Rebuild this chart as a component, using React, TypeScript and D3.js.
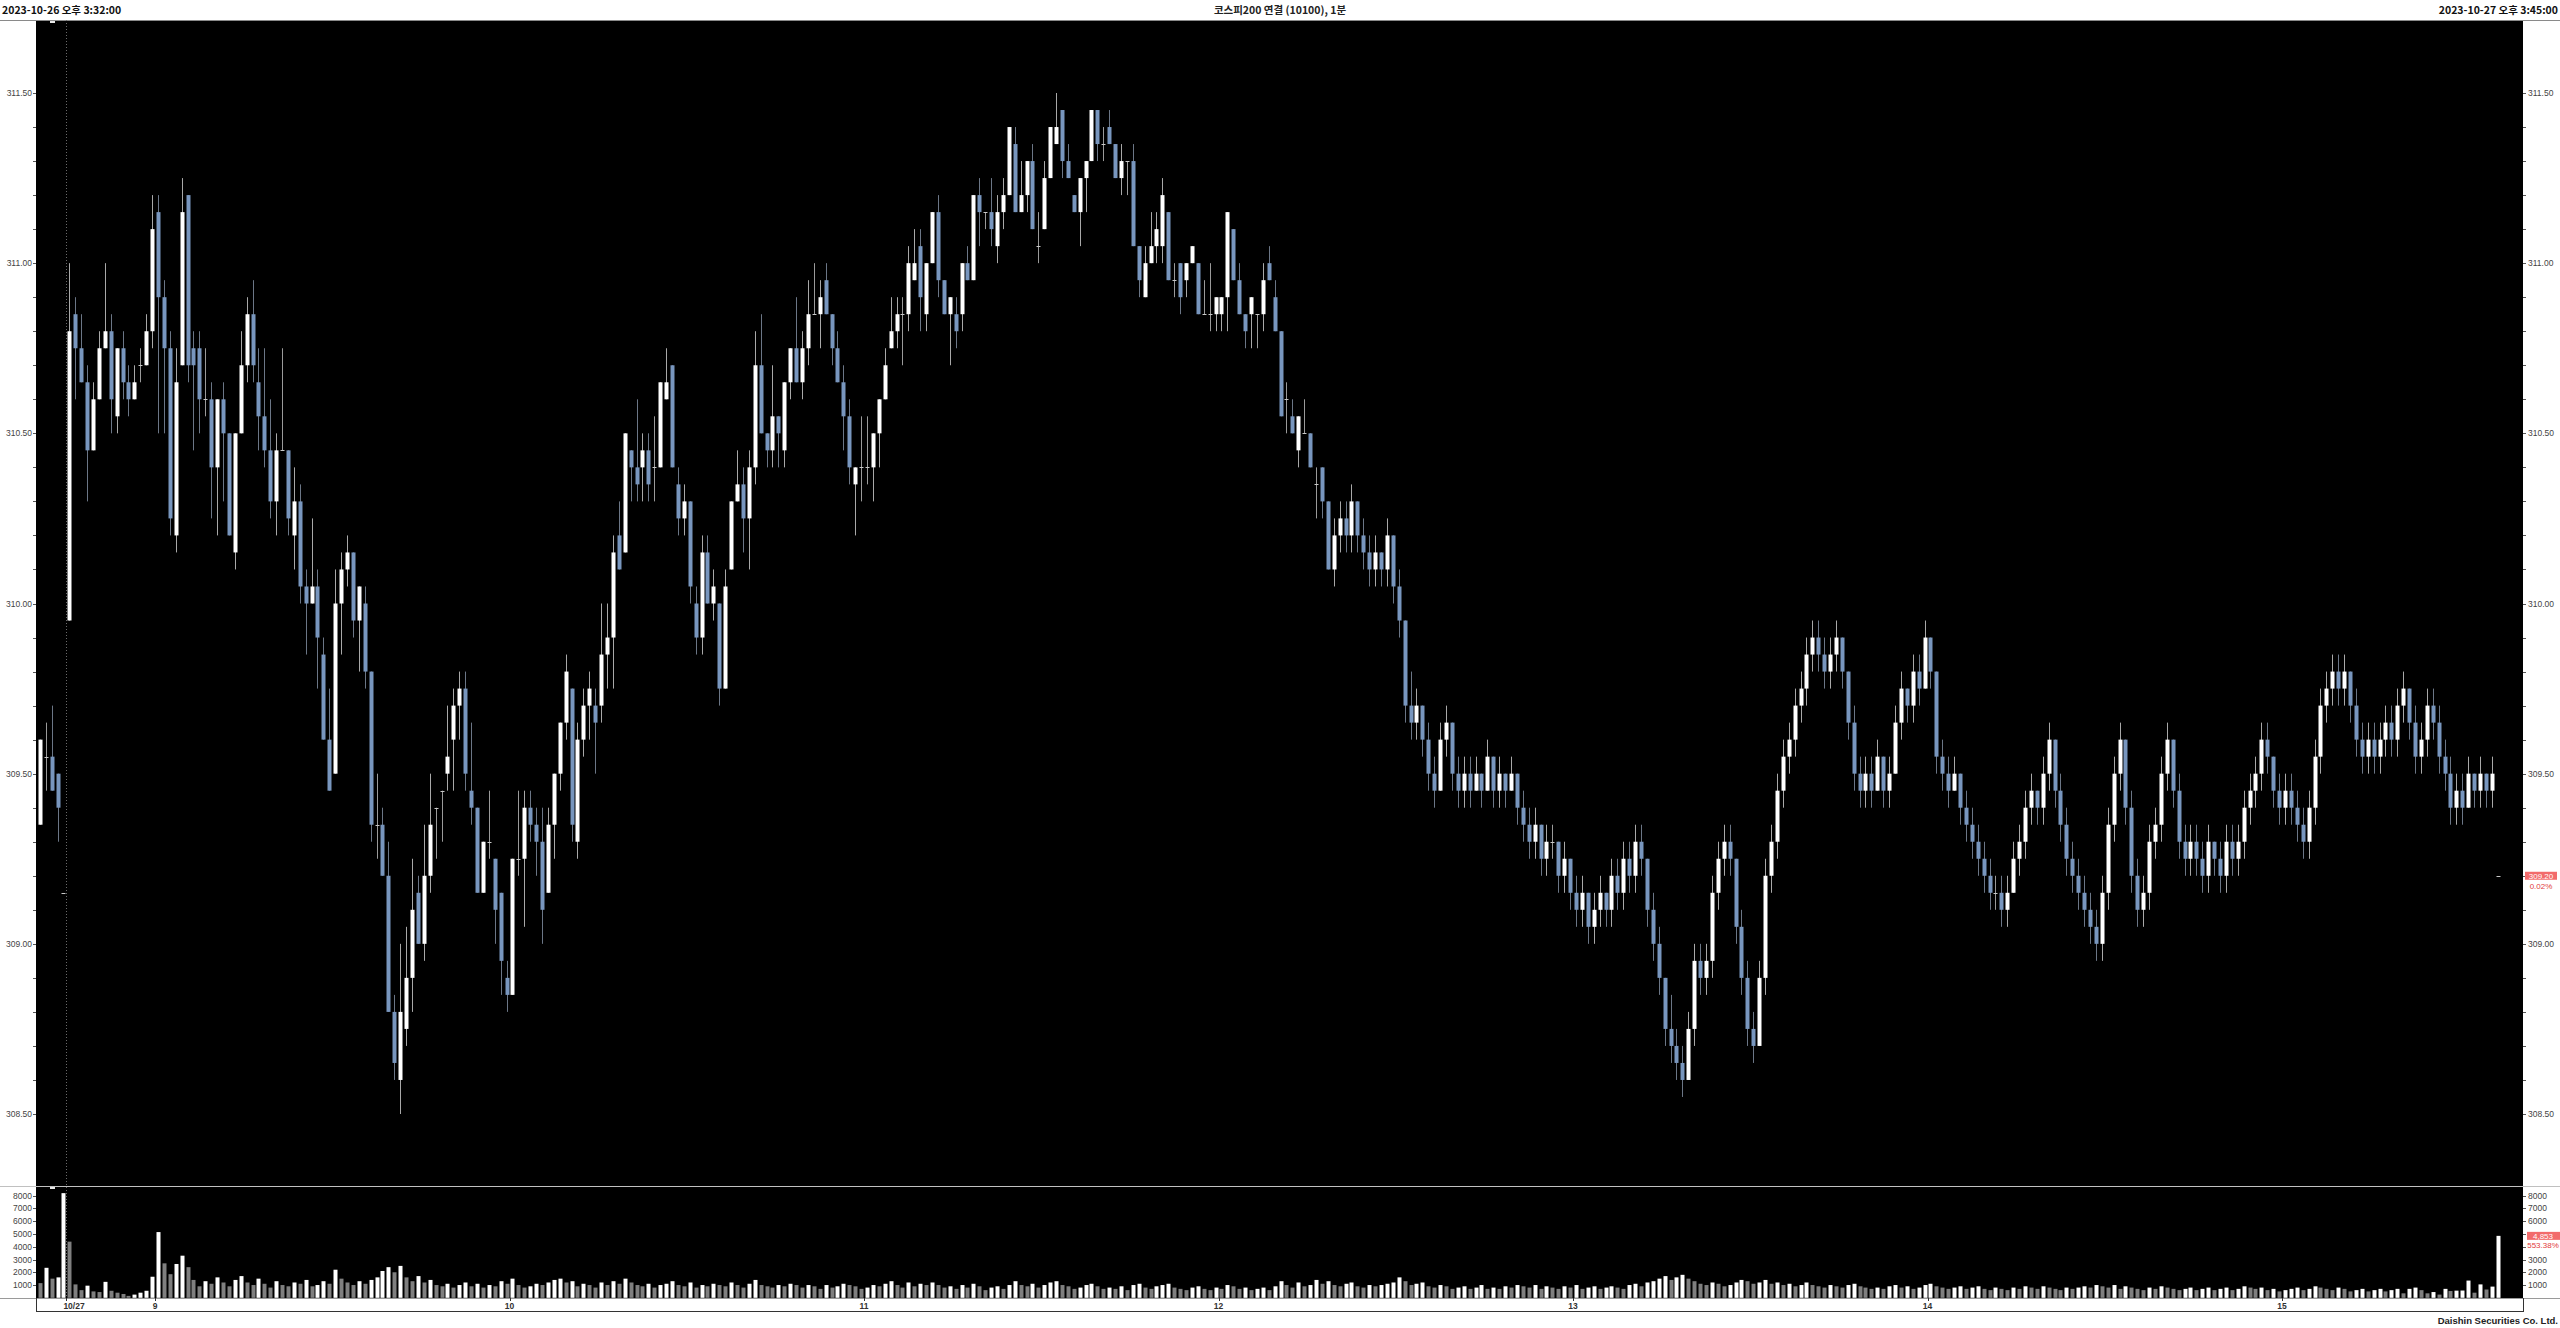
import React from "react";
import * as d3 from "d3";

// ---- data: previous day close (5 candles) + 10/27 session (1-minute OHLC) ----
const opens = [
  309.35, 309.55, 309.55, 309.50, 309.15,
  309.95, 310.85, 310.75, 310.65, 310.45, 310.60, 310.75, 310.80, 310.55, 310.75,
  310.65, 310.60, 310.70, 310.70, 310.80, 311.15, 310.90, 310.75, 310.20, 310.70,
  311.20, 310.75, 310.75, 310.60, 310.60, 310.40, 310.60, 310.50, 310.15, 310.50,
  310.70, 310.85, 310.65, 310.55, 310.45, 310.30, 310.45, 310.45, 310.20, 310.30,
  310.05, 310.00, 310.05, 309.85, 309.60, 309.50, 310.00, 310.10, 310.15, 309.95,
  310.00, 309.80, 309.35, 309.35, 309.20, 308.80, 308.60, 308.75, 308.90, 309.15,
  309.00, 309.20, 309.40, 309.45, 309.50, 309.60, 309.70, 309.75, 309.45, 309.40,
  309.15, 309.30, 309.25, 309.15, 308.90, 308.85, 309.25, 309.25, 309.40, 309.35,
  309.30, 309.15, 309.35, 309.50, 309.65, 309.75, 309.30, 309.60, 309.70, 309.70,
  309.70, 309.85, 309.90, 310.20, 310.15, 310.45, 310.40, 310.40, 310.45, 310.40,
  310.40, 310.60, 310.70, 310.35, 310.25, 310.30, 310.00, 309.90, 310.15, 310.00,
  310.00, 309.75, 310.10, 310.30, 310.35, 310.25, 310.40, 310.70, 310.50, 310.45,
  310.55, 310.45, 310.65, 310.75, 310.65, 310.75, 310.85, 310.85, 310.95, 310.85,
  310.75, 310.65, 310.55, 310.35, 310.40, 310.40, 310.40, 310.50, 310.60, 310.75,
  310.80, 310.85, 310.85, 310.95, 311.05, 310.85, 311.00, 311.15, 310.95, 310.85,
  310.85, 310.85, 311.00, 310.95, 311.20, 311.15, 311.15, 311.05, 311.15, 311.20,
  311.35, 311.15, 311.20, 311.30, 311.05, 311.10, 311.25, 311.35, 311.45, 311.30,
  311.20, 311.15, 311.25, 311.30, 311.45, 311.35, 311.40, 311.35, 311.25, 311.30,
  311.30, 311.05, 310.90, 311.00, 311.05, 311.05, 311.15, 310.95, 311.00, 310.95,
  311.00, 311.00, 310.85, 310.85, 310.85, 310.85, 310.90, 311.10, 310.95, 310.85,
  310.85, 310.85, 310.85, 311.00, 310.90, 310.80, 310.60, 310.55, 310.45, 310.50,
  310.50, 310.35, 310.40, 310.30, 310.10, 310.20, 310.25, 310.20, 310.30, 310.20,
  310.15, 310.10, 310.15, 310.10, 310.20, 310.05, 309.95, 309.70, 309.65, 309.70,
  309.60, 309.50, 309.45, 309.60, 309.65, 309.50, 309.45, 309.50, 309.45, 309.50,
  309.45, 309.55, 309.45, 309.50, 309.45, 309.50, 309.40, 309.35, 309.30, 309.35,
  309.25, 309.30, 309.30, 309.20, 309.25, 309.15, 309.10, 309.15, 309.05, 309.10,
  309.15, 309.10, 309.20, 309.15, 309.25, 309.20, 309.30, 309.25, 309.10, 309.00,
  308.90, 308.75, 308.70, 308.65, 308.60, 308.75, 308.95, 308.90, 308.95, 309.15,
  309.25, 309.30, 309.25, 309.05, 308.90, 308.75, 308.70, 308.90, 309.20, 309.30,
  309.45, 309.55, 309.60, 309.70, 309.75, 309.85, 309.90, 309.85, 309.80, 309.85,
  309.90, 309.80, 309.65, 309.50, 309.45, 309.50, 309.45, 309.55, 309.45, 309.50,
  309.65, 309.75, 309.70, 309.80, 309.75, 309.90, 309.80, 309.55, 309.50, 309.45,
  309.50, 309.40, 309.35, 309.30, 309.25, 309.20, 309.15, 309.15, 309.10, 309.15,
  309.25, 309.30, 309.40, 309.45, 309.40, 309.50, 309.60, 309.45, 309.35, 309.25,
  309.20, 309.15, 309.10, 309.05, 309.00, 309.15, 309.35, 309.50, 309.60, 309.40,
  309.20, 309.10, 309.15, 309.30, 309.35, 309.50, 309.60, 309.45, 309.30, 309.25,
  309.30, 309.25, 309.20, 309.30, 309.25, 309.20, 309.30, 309.25, 309.30, 309.40,
  309.45, 309.50, 309.60, 309.55, 309.45, 309.40, 309.45, 309.40, 309.35, 309.30,
  309.40, 309.55, 309.70, 309.75, 309.80, 309.75, 309.80, 309.70, 309.60, 309.55,
  309.60, 309.55, 309.60, 309.65, 309.60, 309.70, 309.75, 309.65, 309.55, 309.60,
  309.70, 309.65, 309.55, 309.50, 309.40, 309.45, 309.40, 309.50, 309.45, 309.50,
  309.45, 309.20,
];
const highs = [
  309.60, 309.65, 309.70, 309.50, 309.15,
  311.00, 310.90, 310.85, 310.70, 310.65, 310.80, 311.00, 310.85, 310.75, 310.80,
  310.70, 310.70, 310.75, 310.85, 311.20, 311.20, 310.95, 310.80, 310.75, 311.25,
  311.20, 310.80, 310.80, 310.75, 310.65, 310.60, 310.65, 310.50, 310.50, 310.80,
  310.90, 310.95, 310.75, 310.75, 310.60, 310.50, 310.75, 310.45, 310.40, 310.35,
  310.10, 310.25, 310.10, 309.90, 309.75, 310.10, 310.15, 310.20, 310.15, 310.05,
  310.05, 309.80, 309.50, 309.40, 309.30, 308.85, 309.00, 309.05, 309.25, 309.20,
  309.35, 309.50, 309.40, 309.45, 309.70, 309.75, 309.80, 309.80, 309.65, 309.40,
  309.30, 309.45, 309.25, 309.15, 308.95, 309.25, 309.45, 309.45, 309.45, 309.40,
  309.40, 309.40, 309.50, 309.65, 309.85, 309.75, 309.65, 309.75, 309.80, 309.75,
  310.00, 310.00, 310.20, 310.30, 310.50, 310.45, 310.60, 310.50, 310.50, 310.55,
  310.65, 310.75, 310.70, 310.40, 310.35, 310.30, 310.05, 310.20, 310.20, 310.10,
  310.00, 310.10, 310.30, 310.45, 310.40, 310.45, 310.80, 310.85, 310.50, 310.70,
  310.55, 310.65, 310.75, 310.90, 310.80, 310.95, 311.00, 310.95, 311.00, 310.85,
  310.80, 310.70, 310.60, 310.40, 310.55, 310.55, 310.50, 310.60, 310.75, 310.90,
  310.90, 310.90, 311.05, 311.10, 311.10, 311.00, 311.15, 311.20, 310.95, 310.90,
  310.90, 311.00, 311.05, 311.20, 311.25, 311.15, 311.25, 311.20, 311.25, 311.40,
  311.40, 311.30, 311.30, 311.35, 311.15, 311.30, 311.40, 311.50, 311.45, 311.35,
  311.20, 311.25, 311.30, 311.45, 311.45, 311.40, 311.45, 311.35, 311.35, 311.30,
  311.35, 311.05, 311.05, 311.15, 311.15, 311.25, 311.15, 311.00, 311.00, 311.00,
  311.05, 311.00, 310.95, 311.00, 310.90, 310.90, 311.15, 311.10, 311.00, 310.85,
  310.90, 310.85, 311.00, 311.05, 310.95, 310.80, 310.65, 310.60, 310.55, 310.60,
  310.50, 310.40, 310.40, 310.30, 310.25, 310.30, 310.30, 310.35, 310.30, 310.25,
  310.20, 310.20, 310.15, 310.25, 310.20, 310.10, 309.95, 309.80, 309.75, 309.70,
  309.65, 309.55, 309.65, 309.70, 309.65, 309.55, 309.55, 309.55, 309.55, 309.50,
  309.60, 309.55, 309.55, 309.50, 309.55, 309.50, 309.45, 309.40, 309.40, 309.35,
  309.35, 309.35, 309.30, 309.30, 309.25, 309.20, 309.20, 309.15, 309.15, 309.20,
  309.15, 309.25, 309.25, 309.30, 309.30, 309.35, 309.35, 309.25, 309.15, 309.05,
  308.90, 308.85, 308.75, 308.70, 308.80, 309.00, 309.00, 309.00, 309.20, 309.30,
  309.35, 309.35, 309.25, 309.10, 308.95, 308.80, 308.95, 309.25, 309.35, 309.50,
  309.60, 309.65, 309.75, 309.80, 309.90, 309.95, 309.95, 309.90, 309.90, 309.95,
  309.90, 309.80, 309.70, 309.55, 309.55, 309.55, 309.60, 309.55, 309.55, 309.70,
  309.80, 309.75, 309.85, 309.85, 309.95, 309.90, 309.80, 309.60, 309.55, 309.55,
  309.50, 309.45, 309.40, 309.35, 309.30, 309.25, 309.20, 309.20, 309.20, 309.30,
  309.35, 309.45, 309.50, 309.45, 309.55, 309.65, 309.60, 309.50, 309.40, 309.30,
  309.25, 309.20, 309.15, 309.10, 309.20, 309.40, 309.55, 309.65, 309.60, 309.45,
  309.25, 309.20, 309.35, 309.40, 309.55, 309.65, 309.60, 309.50, 309.35, 309.35,
  309.35, 309.30, 309.35, 309.30, 309.30, 309.35, 309.35, 309.35, 309.45, 309.50,
  309.55, 309.65, 309.65, 309.55, 309.50, 309.50, 309.50, 309.45, 309.40, 309.45,
  309.60, 309.75, 309.80, 309.85, 309.85, 309.85, 309.80, 309.75, 309.65, 309.65,
  309.65, 309.65, 309.70, 309.70, 309.75, 309.80, 309.75, 309.70, 309.65, 309.75,
  309.75, 309.70, 309.60, 309.55, 309.50, 309.50, 309.55, 309.50, 309.55, 309.50,
  309.55, 309.20,
];
const lows = [
  309.35, 309.45, 309.45, 309.30, 309.15,
  309.95, 310.60, 310.65, 310.30, 310.45, 310.60, 310.75, 310.50, 310.50, 310.60,
  310.55, 310.60, 310.65, 310.70, 310.75, 310.50, 310.50, 310.20, 310.15, 310.70,
  310.65, 310.45, 310.50, 310.55, 310.25, 310.20, 310.30, 310.20, 310.10, 310.50,
  310.65, 310.65, 310.45, 310.40, 310.25, 310.20, 310.45, 310.20, 310.10, 310.00,
  309.85, 310.00, 309.75, 309.60, 309.45, 309.50, 309.85, 310.05, 309.90, 309.80,
  309.75, 309.30, 309.25, 309.20, 308.80, 308.60, 308.50, 308.70, 308.80, 309.00,
  308.95, 309.15, 309.25, 309.30, 309.45, 309.45, 309.60, 309.45, 309.35, 309.15,
  309.15, 309.25, 309.00, 308.85, 308.80, 308.85, 309.20, 309.05, 309.30, 309.20,
  309.00, 309.15, 309.25, 309.45, 309.60, 309.30, 309.25, 309.55, 309.60, 309.50,
  309.65, 309.75, 309.75, 310.10, 310.15, 310.30, 310.30, 310.30, 310.30, 310.30,
  310.40, 310.60, 310.40, 310.20, 310.20, 310.00, 309.85, 309.85, 310.00, 309.95,
  309.70, 309.75, 310.10, 310.30, 310.15, 310.10, 310.35, 310.50, 310.40, 310.40,
  310.40, 310.40, 310.60, 310.65, 310.60, 310.70, 310.85, 310.75, 310.85, 310.70,
  310.65, 310.45, 310.35, 310.20, 310.30, 310.35, 310.30, 310.40, 310.60, 310.75,
  310.75, 310.70, 310.80, 310.95, 310.80, 310.80, 311.00, 310.90, 310.85, 310.70,
  310.75, 310.80, 310.95, 310.95, 311.05, 311.10, 311.05, 311.00, 311.10, 311.20,
  311.15, 311.15, 311.15, 311.10, 311.00, 311.10, 311.25, 311.35, 311.25, 311.25,
  311.15, 311.05, 311.15, 311.30, 311.30, 311.30, 311.35, 311.25, 311.20, 311.20,
  311.05, 310.90, 310.90, 311.00, 311.00, 311.00, 310.95, 310.90, 310.85, 310.90,
  311.00, 310.85, 310.85, 310.80, 310.80, 310.80, 310.80, 310.95, 310.85, 310.75,
  310.75, 310.75, 310.80, 310.95, 310.80, 310.55, 310.50, 310.50, 310.40, 310.50,
  310.40, 310.25, 310.25, 310.10, 310.05, 310.15, 310.15, 310.15, 310.15, 310.10,
  310.05, 310.05, 310.05, 310.05, 310.00, 309.90, 309.65, 309.60, 309.60, 309.55,
  309.45, 309.40, 309.45, 309.55, 309.45, 309.40, 309.40, 309.40, 309.45, 309.40,
  309.45, 309.40, 309.40, 309.40, 309.45, 309.35, 309.30, 309.25, 309.25, 309.20,
  309.20, 309.25, 309.15, 309.15, 309.10, 309.05, 309.05, 309.00, 309.00, 309.05,
  309.05, 309.05, 309.10, 309.10, 309.15, 309.15, 309.20, 309.05, 308.95, 308.85,
  308.70, 308.65, 308.60, 308.55, 308.60, 308.70, 308.85, 308.85, 308.90, 309.10,
  309.20, 309.20, 309.00, 308.85, 308.70, 308.65, 308.70, 308.85, 309.15, 309.25,
  309.40, 309.50, 309.55, 309.65, 309.70, 309.80, 309.80, 309.75, 309.75, 309.80,
  309.75, 309.60, 309.45, 309.40, 309.40, 309.40, 309.45, 309.40, 309.40, 309.50,
  309.60, 309.65, 309.65, 309.70, 309.75, 309.75, 309.50, 309.45, 309.40, 309.45,
  309.35, 309.30, 309.25, 309.20, 309.15, 309.10, 309.10, 309.05, 309.05, 309.15,
  309.20, 309.25, 309.35, 309.35, 309.35, 309.45, 309.40, 309.30, 309.20, 309.15,
  309.10, 309.05, 309.00, 308.95, 308.95, 309.10, 309.30, 309.45, 309.35, 309.15,
  309.05, 309.05, 309.10, 309.25, 309.30, 309.45, 309.40, 309.25, 309.20, 309.20,
  309.20, 309.15, 309.15, 309.20, 309.15, 309.15, 309.20, 309.20, 309.25, 309.35,
  309.40, 309.45, 309.50, 309.40, 309.35, 309.35, 309.35, 309.30, 309.25, 309.25,
  309.35, 309.50, 309.65, 309.70, 309.70, 309.70, 309.65, 309.55, 309.50, 309.50,
  309.50, 309.50, 309.55, 309.55, 309.55, 309.65, 309.60, 309.50, 309.50, 309.55,
  309.60, 309.50, 309.45, 309.35, 309.35, 309.35, 309.40, 309.40, 309.40, 309.40,
  309.40, 309.20,
];
const closes = [
  309.60, 309.55, 309.45, 309.40, 309.15,
  310.80, 310.75, 310.65, 310.45, 310.60, 310.75, 310.80, 310.60, 310.75, 310.65,
  310.60, 310.65, 310.70, 310.80, 311.10, 310.90, 310.75, 310.25, 310.65, 311.15,
  310.70, 310.70, 310.60, 310.60, 310.40, 310.60, 310.50, 310.20, 310.50, 310.70,
  310.85, 310.70, 310.55, 310.45, 310.30, 310.45, 310.45, 310.25, 310.30, 310.05,
  310.00, 310.05, 309.90, 309.60, 309.45, 310.00, 310.10, 310.15, 309.95, 310.05,
  309.80, 309.35, 309.35, 309.20, 308.80, 308.65, 308.80, 308.90, 309.10, 309.00,
  309.20, 309.35, 309.40, 309.45, 309.55, 309.70, 309.75, 309.50, 309.40, 309.15,
  309.30, 309.30, 309.10, 308.95, 308.85, 309.25, 309.25, 309.40, 309.35, 309.30,
  309.10, 309.35, 309.50, 309.65, 309.80, 309.35, 309.60, 309.70, 309.75, 309.65,
  309.85, 309.90, 310.15, 310.10, 310.50, 310.40, 310.35, 310.45, 310.35, 310.40,
  310.65, 310.65, 310.40, 310.25, 310.30, 310.05, 309.90, 310.15, 310.00, 310.05,
  309.75, 310.05, 310.30, 310.35, 310.25, 310.40, 310.70, 310.50, 310.45, 310.55,
  310.50, 310.65, 310.75, 310.65, 310.75, 310.85, 310.85, 310.90, 310.85, 310.75,
  310.65, 310.55, 310.40, 310.40, 310.40, 310.40, 310.50, 310.60, 310.70, 310.80,
  310.85, 310.85, 311.00, 311.00, 310.90, 311.00, 311.15, 310.95, 310.85, 310.90,
  310.80, 311.00, 310.95, 311.20, 311.15, 311.15, 311.10, 311.15, 311.20, 311.40,
  311.15, 311.20, 311.30, 311.10, 311.05, 311.25, 311.40, 311.40, 311.30, 311.25,
  311.15, 311.25, 311.30, 311.45, 311.35, 311.35, 311.35, 311.25, 311.30, 311.30,
  311.05, 310.95, 311.00, 311.05, 311.10, 311.20, 310.95, 310.95, 310.90, 311.00,
  311.05, 310.85, 310.85, 310.85, 310.90, 310.90, 311.15, 310.95, 310.85, 310.80,
  310.90, 310.85, 310.95, 310.95, 310.80, 310.55, 310.60, 310.50, 310.55, 310.50,
  310.40, 310.35, 310.30, 310.10, 310.20, 310.25, 310.20, 310.30, 310.20, 310.15,
  310.10, 310.15, 310.10, 310.20, 310.05, 309.95, 309.70, 309.65, 309.70, 309.60,
  309.50, 309.45, 309.60, 309.65, 309.50, 309.45, 309.50, 309.45, 309.50, 309.45,
  309.55, 309.45, 309.50, 309.45, 309.50, 309.40, 309.35, 309.30, 309.35, 309.25,
  309.30, 309.30, 309.20, 309.25, 309.15, 309.10, 309.15, 309.05, 309.10, 309.15,
  309.10, 309.20, 309.15, 309.25, 309.20, 309.30, 309.25, 309.10, 309.00, 308.90,
  308.75, 308.70, 308.65, 308.60, 308.75, 308.95, 308.90, 308.95, 309.15, 309.25,
  309.30, 309.25, 309.05, 308.90, 308.75, 308.70, 308.90, 309.20, 309.30, 309.45,
  309.55, 309.60, 309.70, 309.75, 309.85, 309.90, 309.85, 309.80, 309.85, 309.90,
  309.80, 309.65, 309.50, 309.45, 309.50, 309.45, 309.55, 309.45, 309.50, 309.65,
  309.75, 309.70, 309.80, 309.75, 309.90, 309.80, 309.55, 309.50, 309.45, 309.50,
  309.40, 309.35, 309.30, 309.25, 309.20, 309.15, 309.15, 309.10, 309.15, 309.25,
  309.30, 309.40, 309.45, 309.40, 309.50, 309.60, 309.45, 309.35, 309.25, 309.20,
  309.15, 309.10, 309.05, 309.00, 309.15, 309.35, 309.50, 309.60, 309.40, 309.20,
  309.10, 309.15, 309.30, 309.35, 309.50, 309.60, 309.45, 309.30, 309.25, 309.30,
  309.25, 309.20, 309.30, 309.25, 309.20, 309.30, 309.25, 309.30, 309.40, 309.45,
  309.50, 309.60, 309.55, 309.45, 309.40, 309.45, 309.40, 309.35, 309.30, 309.40,
  309.55, 309.70, 309.75, 309.80, 309.75, 309.80, 309.70, 309.60, 309.55, 309.60,
  309.55, 309.60, 309.65, 309.60, 309.70, 309.75, 309.65, 309.55, 309.60, 309.70,
  309.65, 309.55, 309.50, 309.40, 309.45, 309.40, 309.50, 309.45, 309.50, 309.45,
  309.50, 309.20,
];
const volumes = [
  1150, 2350, 1500, 1600, 8200,
  4400, 1050, 600, 950, 500, 450, 1250, 550, 400, 300,
  150, 250, 400, 550, 1650, 5150, 2700, 1850, 2650, 3300,
  2400, 1400, 900, 1300, 1100, 1600, 1200, 900, 1400, 1700,
  1200, 1000, 1500, 1100, 800, 1300, 1000, 900, 1200, 1100,
  1400, 900, 1000, 1300, 1100, 2200, 1500, 1200, 1000, 1300,
  1100, 1400, 1600, 2100, 2400, 2000, 2500, 1600, 1300, 1700,
  1200, 1400, 1000, 900, 1100, 800, 1000, 1200, 900, 1100,
  800, 1000, 900, 1300, 1100, 1500, 1000, 800, 900, 1100,
  1000, 1200, 1400, 1500, 1200, 1300, 900, 1100, 1000, 800,
  1200, 1000, 1300, 1100, 1500, 1200, 1000, 900, 1100, 800,
  1000, 1100, 1300, 1000, 900, 1200, 800, 1000, 900, 1100,
  1000, 900, 1200, 1000, 800, 1100, 1400, 1000, 900, 800,
  1000, 900, 1100, 1000, 800, 1000, 900, 700, 1000, 800,
  900, 1100, 1000, 900, 700, 800, 1000, 900, 1100, 1300,
  1000, 800, 1200, 900, 1100, 1000, 1200, 1000, 800, 900,
  700, 1000, 800, 1100, 900, 600, 800, 900, 700, 1000,
  1300, 1000, 900, 1100, 800, 1000, 1200, 1300, 1000, 900,
  700, 800, 1000, 1100, 900, 700, 800, 700, 900, 600,
  1000, 1100, 800, 700, 900, 1000, 1100, 800, 700, 600,
  800, 900, 700, 600, 800, 700, 1000, 900, 700, 800,
  600, 700, 800, 600, 900, 1300, 1000, 800, 1200, 900,
  1000, 1400, 1100, 1300, 1000, 900, 1100, 1200, 900, 800,
  1000, 900, 1000, 1100, 1200, 1600, 1300, 1000, 1100, 1200,
  900, 800, 1000, 900, 700, 800, 900, 700, 800, 1000,
  700, 800, 700, 900, 800, 1000, 900, 800, 1000, 700,
  900, 800, 700, 900, 800, 1000, 700, 800, 900, 700,
  800, 900, 800, 700, 1000, 1100, 900, 1200, 1300, 1500,
  1700, 1400, 1600, 1800, 1500, 1300, 1100, 1000, 1200, 1100,
  900, 1000, 1200, 1400, 1300, 1100, 1200, 1400, 1100, 1200,
  1000, 1100, 900, 1000, 1200, 1000, 900, 800, 1000, 900,
  800, 1000, 1100, 900, 800, 700, 800, 700, 900, 1000,
  800, 900, 700, 800, 1000, 1100, 900, 800, 700, 800,
  900, 700, 800, 900, 700, 600, 800, 700, 600, 800,
  700, 900, 800, 700, 900, 800, 700, 600, 800, 700,
  800, 900, 800, 1000, 900, 800, 1000, 700, 900, 800,
  700, 600, 800, 700, 900, 800, 700, 600, 700, 800,
  600, 700, 800, 600, 700, 800, 600, 700, 900, 800,
  700, 800, 600, 700, 500, 600, 700, 800, 600, 700,
  900, 800, 700, 600, 800, 700, 500, 600, 700, 500,
  600, 700, 500, 600, 700, 350, 700, 800, 600, 350,
  450, 250, 700, 530, 560, 570, 1350, 400, 1050, 650,
  877, 4853,
];

const priceTicks = [308.5, 309.0, 309.5, 310.0, 310.5, 311.0, 311.5];
const volumeTicks = [1000, 2000, 3000, 4000, 5000, 6000, 7000, 8000];
const timeLabels = ["10/27", "9", "10", "11", "12", "13", "14", "15"];
const timeLabelIndex = [5, 20, 80, 140, 200, 260, 320, 380];
const cursorIndex = 2;

const headerLeft = "2023-10-26 오후 3:32:00";
const headerTitle = "코스피200 연결 (10100), 1분";
const headerRight = "2023-10-27 오후 3:45:00";
const lastPrice = "309.20";
const lastChange = "0.02%";
const lastVolume = "4,853";
const lastVolumeChange = "553.38%";

const UP = "#ffffff";
const DOWN = "#7896be";
const UP_WICK = "#a8a8a8";
const DOWN_WICK = "#6b7686";
const FONT = "'Liberation Sans', Arial, sans-serif";
const KFONT = "'Noto Sans CJK KR', 'Liberation Sans', sans-serif";

export default function App() {
  const W = 2560, H = 1328;
  const plotL = 36, plotR = 2523, plotT = 20, priceB = 1186, volB = 1298, axisB = 1311;

  const x = d3.scaleLinear().domain([0, 416]).range([39.8, 2497.7]);
  const y = d3.scaleLinear().domain([308.5, 311.5]).range([1114, 93]);
  const yv = d3.scaleLinear().domain([0, 8000]).range([1297.8, 1195.7]);
  const bw = 4;

  const minorTicks = d3.range(3085, 3116, 1).map((v) => v / 10).filter((v) => y(v) > plotT && y(v) < priceB);
  const lastP = +lastPrice;

  const candles = opens.map((o, i) => {
    const c = closes[i], h = highs[i], l = lows[i];
    const cx = Math.round(x(i)) + 0.5;
    const up = c > o, down = c < o;
    const wick = up ? UP_WICK : down ? DOWN_WICK : "#9a9a9a";
    const top = y(Math.max(o, c)), bot = y(Math.min(o, c));
    return (
      <g key={"c" + i}>
        <line x1={cx} x2={cx} y1={y(h)} y2={y(l)} stroke={wick} strokeWidth={1} />
        {up || down ? (
          <rect x={cx - bw / 2} y={top} width={bw} height={Math.max(1, bot - top)} fill={up ? UP : DOWN} />
        ) : (
          <line x1={cx - bw / 2} x2={cx + bw / 2} y1={Math.round(y(o)) + 0.5} y2={Math.round(y(o)) + 0.5} stroke="#c8c8c8" strokeWidth={1} />
        )}
      </g>
    );
  });

  const vbars = volumes.map((v, i) => {
    const cx = Math.round(x(i)) + 0.5;
    const rising = i === 0 ? false : v > volumes[i - 1];
    return <rect key={"v" + i} x={cx - bw / 2} y={yv(v)} width={bw} height={yv(0) - yv(v)} fill={rising ? "#ffffff" : "#7f7f7f"} />;
  });

  const sepX = x(4.5);
  const curX = Math.round(x(cursorIndex));

  return (
    <svg width={W} height={H} style={{ display: "block", position: "absolute", left: 0, top: 0, background: "#fff" }}>
      <rect x={0} y={0} width={W} height={H} fill="#ffffff" />
      {/* header */}
      <text x={2} y={14} fontFamily={KFONT} fontWeight="bold" fontSize={10.5} fill="#111">{headerLeft}</text>
      <text x={1280} y={14} textAnchor="middle" fontFamily={KFONT} fontWeight="bold" fontSize={10.5} fill="#222">{headerTitle}</text>
      <text x={2558} y={14} textAnchor="end" fontFamily={KFONT} fontWeight="bold" fontSize={10.5} fill="#111">{headerRight}</text>

      {/* plot background */}
      <rect x={plotL} y={plotT} width={plotR - plotL} height={volB - plotT} fill="#000" />
      <line x1={0} x2={W} y1={plotT + 0.5} y2={plotT + 0.5} stroke="#8a8a8a" />
      <line x1={0} x2={W} y1={priceB + 0.5} y2={priceB + 0.5} stroke="#c0c0c0" />
      <line x1={0} x2={W} y1={volB + 0.5} y2={volB + 0.5} stroke="#9a9a9a" />
      <line x1={plotL + 0.5} x2={plotL + 0.5} y1={volB} y2={axisB} stroke="#333" />
      <line x1={plotR + 0.5} x2={plotR + 0.5} y1={volB} y2={axisB} stroke="#333" />
      <line x1={plotL} x2={plotR + 1} y1={axisB + 0.5} y2={axisB + 0.5} stroke="#333" />

      {/* day separator */}
      <line x1={Math.round(sepX) + 0.5} x2={Math.round(sepX) + 0.5} y1={plotT} y2={volB} stroke="#6a6a6a" strokeDasharray="1,2" />
      {/* cursor markers */}
      <rect x={curX - 2} y={plotT + 1} width={5} height={2} fill="#e8e8e8" />
      <rect x={curX - 2} y={priceB + 1} width={5} height={2} fill="#e8e8e8" />

      {/* price axes */}
      {minorTicks.map((t) => (
        <g key={"mt" + t}>
          <line x1={plotL - 3} x2={plotL} y1={Math.round(y(t)) + 0.5} y2={Math.round(y(t)) + 0.5} stroke="#555" />
          <line x1={plotR} x2={plotR + 3} y1={Math.round(y(t)) + 0.5} y2={Math.round(y(t)) + 0.5} stroke="#555" />
        </g>
      ))}
      {priceTicks.map((t) => (
        <g key={"pt" + t}>
          <text x={plotL - 4} y={y(t) + 3} textAnchor="end" fontFamily={FONT} fontSize={8.5} fill="#444">{t.toFixed(2)}</text>
          <text x={plotR + 5} y={y(t) + 3} textAnchor="start" fontFamily={FONT} fontSize={8.5} fill="#444">{t.toFixed(2)}</text>
        </g>
      ))}

      {/* volume axes */}
      {volumeTicks.map((t) => (
        <g key={"vt" + t}>
          <line x1={plotL - 3} x2={plotL} y1={Math.round(yv(t)) + 0.5} y2={Math.round(yv(t)) + 0.5} stroke="#555" />
          <text x={plotL - 4} y={yv(t) + 3} textAnchor="end" fontFamily={FONT} fontSize={8.5} fill="#444">{t}</text>
          <line x1={plotR} x2={plotR + 3} y1={Math.round(yv(t)) + 0.5} y2={Math.round(yv(t)) + 0.5} stroke="#555" />
          {t !== 4000 && t !== 5000 ? (
            <text x={plotR + 5} y={yv(t) + 3} textAnchor="start" fontFamily={FONT} fontSize={8.5} fill="#444">{t}</text>
          ) : null}
        </g>
      ))}

      {/* candles */}
      <g>{candles}</g>
      {/* volume */}
      <g>{vbars}</g>

      {/* last price tag */}
      <rect x={plotR + 2} y={y(lastP) - 4} width={32} height={8} fill="#f26b6b" />
      <text x={plotR + 18} y={y(lastP) + 3} textAnchor="middle" fontFamily={FONT} fontSize={8} fill="#fff">{lastPrice}</text>
      <text x={plotR + 18} y={y(lastP) + 13} textAnchor="middle" fontFamily={FONT} fontSize={8} fill="#e23b3b">{lastChange}</text>
      <rect x={plotR + 4} y={yv(4853) - 4} width={33} height={8} fill="#f26b6b" />
      <text x={plotR + 20} y={yv(4853) + 3} textAnchor="middle" fontFamily={FONT} fontSize={8} fill="#fff">{lastVolume}</text>
      <text x={plotR + 20} y={yv(4853) + 12} textAnchor="middle" fontFamily={FONT} fontSize={8} fill="#e23b3b">{lastVolumeChange}</text>

      {/* time axis */}
      {timeLabels.map((lab, k) => {
        const bx = x(timeLabelIndex[k] - 0.5);
        return (
          <g key={"tl" + k}>
            <line x1={Math.round(bx) + 0.5} x2={Math.round(bx) + 0.5} y1={volB} y2={volB + 3} stroke="#333" />
            <text x={k === 0 ? bx - 3 : bx} y={volB + 11} textAnchor={k === 0 ? "start" : "middle"} fontFamily={FONT} fontWeight="bold" fontSize={8.5} fill="#333">{lab}</text>
          </g>
        );
      })}

      <text x={2558} y={1324} textAnchor="end" fontFamily={FONT} fontWeight="bold" fontSize={9.5} fill="#222">Daishin Securities Co. Ltd.</text>
    </svg>
  );
}
